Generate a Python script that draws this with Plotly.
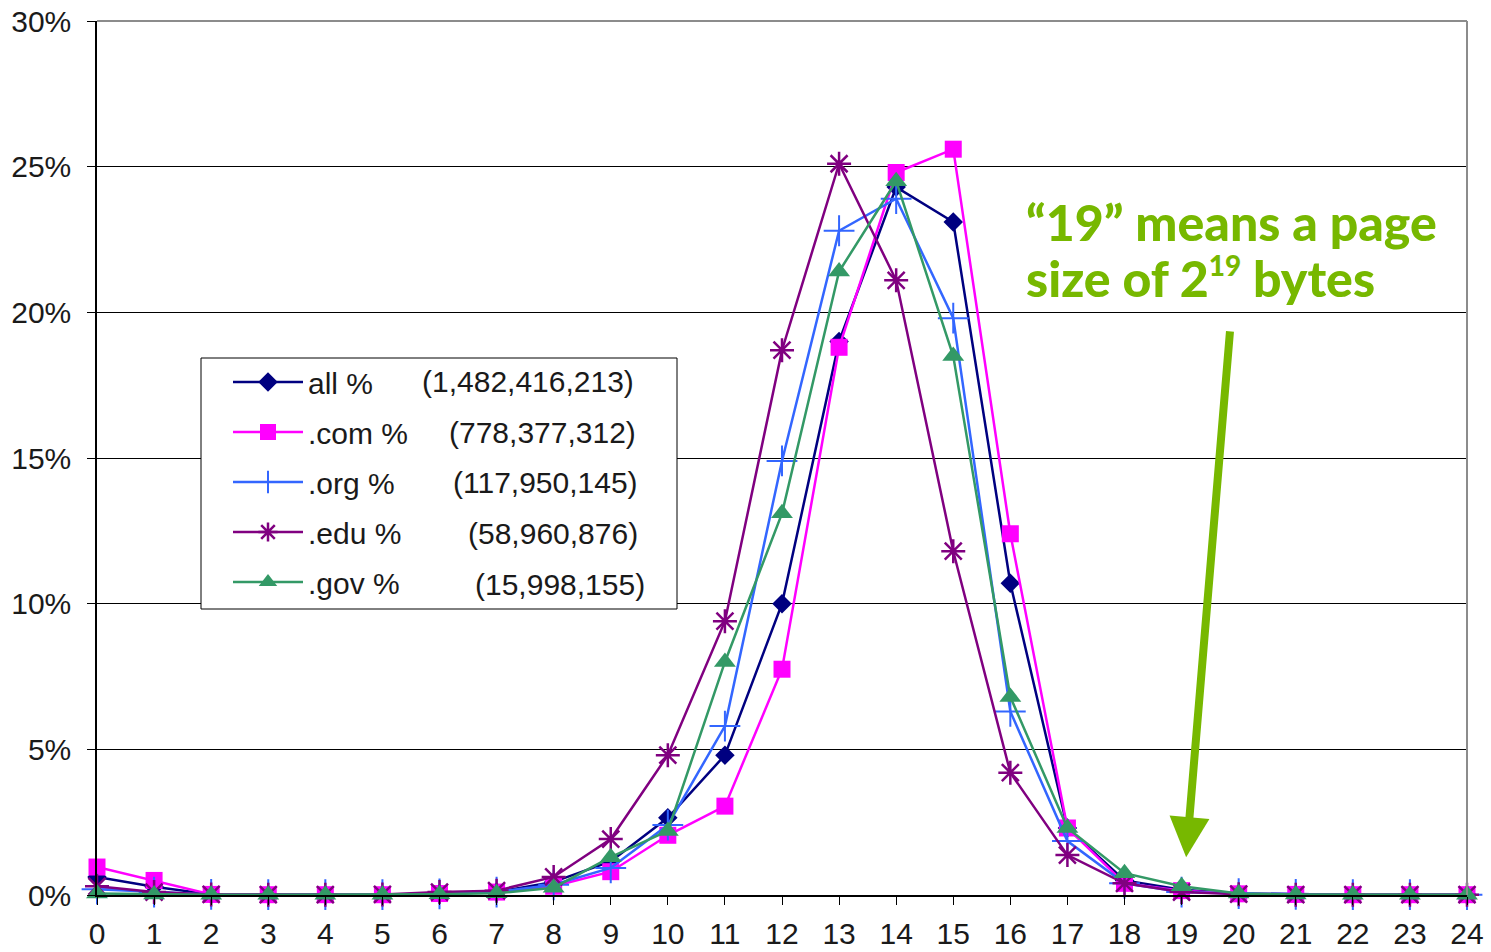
import plotly.graph_objects as go

# page-size exponent (log2 of bytes)
sizes = list(range(25))

all_pct = [0.62, 0.28, 0.02, 0.01, 0.01, 0.01, 0.04, 0.10, 0.45, 1.15, 2.65, 4.8, 10.0, 19.0,
           24.3, 23.1, 10.7, 2.3, 0.5, 0.18, 0.05, 0.02, 0.01, 0.01, 0.01]
com_pct = [0.96, 0.5, 0.02, 0.01, 0.01, 0.01, 0.05, 0.10, 0.3, 0.8, 2.05, 3.05, 7.75, 18.8,
           24.8, 25.6, 12.4, 2.3, 0.4, 0.15, 0.04, 0.02, 0.01, 0.01, 0.01]
org_pct = [0.2, 0.1, 0.02, 0.01, 0.01, 0.01, 0.04, 0.10, 0.35, 0.93, 2.4, 5.8, 14.9, 22.8,
           23.9, 19.8, 6.3, 1.85, 0.4, 0.1, 0.05, 0.02, 0.01, 0.01, 0.01]
edu_pct = [0.3, 0.1, 0.02, 0.01, 0.01, 0.02, 0.1, 0.15, 0.62, 1.92, 4.8, 9.4, 18.7, 25.1,
           21.1, 11.8, 4.2, 1.37, 0.4, 0.1, 0.03, 0.01, 0.01, 0.01, 0.01]
gov_pct = [0.05, 0.02, 0.01, 0.01, 0.01, 0.01, 0.03, 0.06, 0.25, 1.3, 2.2, 8.0, 13.1, 21.4,
           24.5, 18.5, 6.8, 2.3, 0.75, 0.3, 0.05, 0.02, 0.01, 0.01, 0.01]

series_names = ["all %", ".com %", ".org %", ".edu %", ".gov %"]
page_counts = ["(1,482,416,213)", "(778,377,312)", "(117,950,145)", "(58,960,876)", "(15,998,155)"]
count_x = [420, 447, 451, 466, 473]

note_lines = ["\u201c19\u201d means a page",
              "size of 2<sup><span style='font-size:28px'>19</span></sup> bytes"]

y_ticks = [0, 5, 10, 15, 20, 25, 30]
y_tick_text = ["0%", "5%", "10%", "15%", "20%", "25%", "30%"]

W, H = 1491, 952
L, R, T, B = 97, 24, 21, 57
PW, PH = W - L - R, H - T - B

styles = [
    dict(color="#000080", symbol="diamond", size=15, lw=0),
    dict(color="#FF00FF", symbol="square", size=17, lw=0),
    dict(color="#3366FF", symbol="cross-thin-open", size=22, lw=2),
    dict(color="#800080", symbol="asterisk-open", size=20, lw=2.5),
    dict(color="#339966", symbol="triangle-up", size=19, lw=0),
]

fig = go.Figure()
for name, ys, st in zip(series_names, [all_pct, com_pct, org_pct, edu_pct, gov_pct], styles):
    fig.add_trace(go.Scatter(
        x=sizes, y=ys, mode="lines+markers", name=name, legendgroup=name,
        cliponaxis=False,
        line=dict(color=st["color"], width=2.5),
        marker=dict(symbol=st["symbol"], size=st["size"], color=st["color"],
                    line=dict(color=st["color"], width=st["lw"])),
    ))

font_main = "Liberation Sans, Arial, sans-serif"
FS = 30


def px_x(px):
    return (px - L) / PW


def px_y(py):
    return (H - B - py) / PH


# legend frame
fig.add_shape(type="rect", xref="paper", yref="paper",
              x0=px_x(201), x1=px_x(677), y0=px_y(609), y1=px_y(358),
              line=dict(color="black", width=1), fillcolor="white", layer="above")

# plot-area frame (top and right in grey)
fig.add_shape(type="line", xref="paper", yref="paper", x0=0, x1=1, y0=1, y1=1,
              line=dict(color="#8c8c8c", width=2), layer="above")
fig.add_shape(type="line", xref="paper", yref="paper", x0=1, x1=1, y0=0, y1=1,
              line=dict(color="#8c8c8c", width=2), layer="above")

row_y = [382, 432, 483, 533, 584]
for cnt, cx, ry in zip(page_counts, count_x, row_y):
    fig.add_annotation(xref="paper", yref="paper", x=px_x(cx), y=px_y(ry),
                       text=cnt, showarrow=False, xanchor="left", yanchor="middle",
                       font=dict(family=font_main, size=FS, color="#1a1a1a"))

# explanatory note with arrow pointing at 19
for line_text, cy in zip(note_lines, [222, 278]):
    fig.add_annotation(xref="paper", yref="paper", x=px_x(1024), y=px_y(cy),
                       text=line_text, showarrow=False, xanchor="left", yanchor="middle",
                       align="left",
                       font=dict(family="Lato, sans-serif", size=50, color="#77B800", weight=900))
fig.add_annotation(xref="x", yref="y", x=19.08, y=1.3, axref="x", ayref="y",
                   ax=19.85, ay=19.4, text="", showarrow=True,
                   arrowhead=2, arrowsize=1.0, arrowwidth=8, arrowcolor="#77B800")

fig.update_layout(
    width=W, height=H,
    margin=dict(l=L, r=R, t=T, b=B, autoexpand=False),
    paper_bgcolor="white", plot_bgcolor="white",
    font=dict(family=font_main, size=FS, color="#1a1a1a"),
    showlegend=True,
    legend=dict(x=px_x(228), y=px_y(356), xanchor="left", yanchor="top",
                bgcolor="rgba(0,0,0,0)", borderwidth=0,
                font=dict(family=font_main, size=FS, color="#1a1a1a"),
                itemwidth=70, tracegroupgap=8, traceorder="grouped"),
    xaxis=dict(range=[0, 24], tickmode="array", tickvals=sizes, automargin=False,
               ticks="outside", ticklen=8, tickcolor="black", showgrid=False,
               showline=True, linecolor="black", linewidth=1.5, zeroline=False,
               ticklabelstandoff=3, tickfont=dict(size=FS)),
    yaxis=dict(range=[0, 30], tickmode="array", tickvals=y_ticks, ticktext=y_tick_text,
               automargin=False,
               ticks="outside", ticklen=8, tickcolor="black", showgrid=True,
               gridcolor="black", gridwidth=1, showline=True, linecolor="black",
               linewidth=1.5, zeroline=False, ticklabelstandoff=10,
               tickfont=dict(size=FS)),
)

fig.write_html("out.html")
